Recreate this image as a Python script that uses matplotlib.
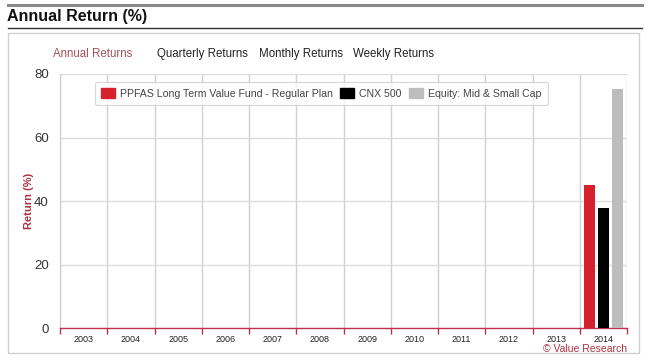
import matplotlib
matplotlib.use("Agg")
import matplotlib.pyplot as plt
import numpy as np
from matplotlib.patches import Rectangle, Patch
from matplotlib.lines import Line2D

years = ["2003", "2004", "2005", "2006", "2007", "2008", "2009", "2010",
         "2011", "2012", "2013", "2014"]
fund = [np.nan] * 11 + [45.0]
cnx500 = [np.nan] * 11 + [37.9]
category = [np.nan] * 11 + [75.4]
series_names = ["PPFAS Long Term Value Fund - Regular Plan", "CNX 500",
                "Equity: Mid & Small Cap"]
colors = ["#d7202e", "#000000", "#bdbdbd"]
tabs = ["Annual Returns", "Quarterly Returns", "Monthly Returns", "Weekly Returns"]
yticks = [0, 20, 40, 60, 80]

W, H = 650, 361
fig = plt.figure(figsize=(W / 100, H / 100), dpi=100)
fig.patch.set_facecolor("white")

def fx(x):
    return x / W

def fy(y):
    return 1 - y / H

# Header lines and title
fig.add_artist(Line2D([fx(8), fx(642)], [fy(5), fy(5)], color="#8a8a8a", lw=2.2))
fig.add_artist(Line2D([fx(8), fx(642)], [fy(28), fy(28)], color="#333333", lw=1.0))
fig.text(fx(7), fy(17), "Annual Return (%)", fontsize=11.5, fontweight="bold",
         va="center", ha="left", color="#111111", family="Liberation Sans")

# Outer box
fig.add_artist(Rectangle((fx(8), fy(353)), fx(639) - fx(8), fy(33) - fy(353),
                         transform=fig.transFigure, fill=False,
                         edgecolor="#d0d0d0", lw=1.0))

# Tabs
tab_x = [53, 157, 259, 353]
for i, (t, x) in enumerate(zip(tabs, tab_x)):
    fig.text(fx(x), fy(54), t, fontsize=8.3, va="center", ha="left",
             color="#a0505a" if i == 0 else "#222222", family="Liberation Sans")

# Plot axes
left, right, top, bottom = 60, 627, 74, 328.3
ax = fig.add_axes([fx(left), fy(bottom), fx(right) - fx(left), fy(top) - fy(bottom)])
x = np.arange(len(years))
off = 0.296
bw = 0.233
ax.bar(x - off, fund, bw, color=colors[0], zorder=3)
ax.bar(x, cnx500, bw, color=colors[1], zorder=3)
ax.bar(x + off, category, bw, color=colors[2], zorder=3)

ax.set_xlim(-0.5, len(years) - 0.5)
ax.set_ylim(0, 80)
ax.set_yticks(yticks)
ax.set_yticklabels([str(v) for v in yticks], fontsize=9.5, color="#333333",
                   family="Liberation Sans")
ax.tick_params(axis="y", length=0, pad=8)
ax.set_xticks(x)
ax.set_xticklabels(years, fontsize=6.5, color="#222222", family="Liberation Sans")
ax.tick_params(axis="x", which="major", length=0, pad=5)
ax.set_xticks(np.arange(-0.5, len(years)), minor=True)
ax.tick_params(axis="x", which="minor", length=4, direction="out",
               color="#c03050", width=1.0)
ax.grid(axis="x", which="minor", color="#d4ccd6", lw=1.0, zorder=0)
ax.grid(axis="y", which="major", color="#dddddd", lw=1.0, zorder=0)
for s in ["top", "right"]:
    ax.spines[s].set_visible(False)
ax.spines["left"].set_color("#cfc8d2")
ax.spines["bottom"].set_color("#c03050")
ax.spines["bottom"].set_linewidth(1.0)
fig.text(fx(29), fy(201), "Return (%)", fontsize=8, fontweight="bold",
         color="#b03040", family="Liberation Sans", rotation=90,
         ha="center", va="center")

handles = [Patch(facecolor=c, edgecolor=c) for c in colors]
leg = ax.legend(handles, series_names, loc="upper center", ncol=3,
                bbox_to_anchor=(0.461, 0.99), frameon=True,
                prop={"family": "Liberation Sans", "size": 7.6},
                handlelength=1.3, handleheight=1.1, handletextpad=0.5,
                columnspacing=0.7, borderpad=0.6, fancybox=True)
leg.get_frame().set_edgecolor("#cccccc")
leg.get_frame().set_linewidth(0.8)
for t in leg.get_texts():
    t.set_color("#444444")

fig.text(fx(627), fy(349), "© Value Research", fontsize=7.5, ha="right",
         va="center", color="#b03040", family="Liberation Sans")

fig.savefig("out.png", dpi=100, facecolor="white")
